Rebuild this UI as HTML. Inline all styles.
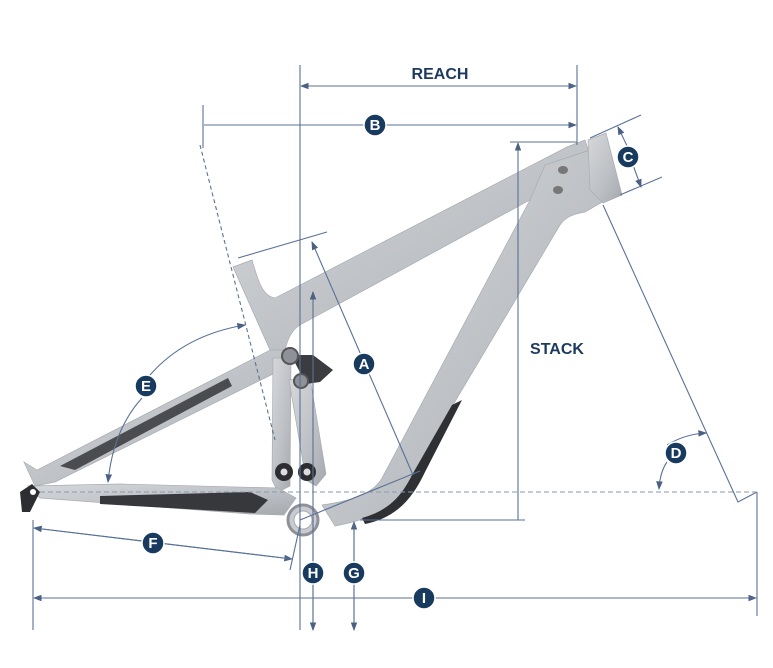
<!DOCTYPE html>
<html><head><meta charset="utf-8"><style>
html,body{margin:0;padding:0;background:#fff;}
svg{display:block;}
.d{stroke:#5a7196;stroke-width:1.1;fill:none;}
.t{font-family:"Liberation Sans",sans-serif;font-weight:bold;fill:#fff;font-size:15px;text-anchor:middle;}
</style></head><body>
<svg width="773" height="668" viewBox="0 0 773 668" xmlns="http://www.w3.org/2000/svg">
<defs>
<marker id="a" markerWidth="8" markerHeight="6" refX="7" refY="3" orient="auto"><path d="M0,0 L8,3 L0,6z" fill="#4a6184"/></marker>
<linearGradient id="g" x1="0" y1="0" x2="1" y2="1"><stop offset="0" stop-color="#d6d8db"/><stop offset="0.6" stop-color="#bcbfc3"/><stop offset="1" stop-color="#a5a9ae"/></linearGradient>
</defs>
<g fill="url(#g)" stroke="#a8acb1" stroke-width="0.7">
<path d="M24,462 L37,470 L280,345 L292,352 L290,368 L273,374 L55,482 L35,486 Z"/>
<path d="M273,358 L291,358 L290,486 L278,492 L272,480 Z"/>
<path d="M28,486 L120,484 L278,488 L296,498 L284,515 L250,514 L40,498 Z"/>
<path d="M289,380 L310,378 L326,474 L316,486 L306,480 Z"/>
<path d="M233,267 L252,260 C258,280 262,296 275,298 L567,147 L585,140 L598,180 L560,215 C545,215 535,205 530,200 L300,325 C292,330 288,338 285,350 L270,350 Z"/>
<path d="M530,200 L545,165 L590,150 L606,200 L585,212 C572,214 565,218 560,225 L450,410 L420,470 C405,500 380,518 335,526 L322,505 C360,500 375,490 382,478 Z"/>
<path d="M588,140 L606,133 L622,195 L603,203 L590,190 Z"/>
</g>
<path d="M100,496 L250,492 L268,500 L255,513 L100,504 Z" fill="#36383c"/>
<path d="M452,405 L462,400 L425,472 C412,500 395,518 365,524 L362,518 C390,510 402,495 412,475 Z" fill="#2e3034"/>
<path d="M60,466 L228,378 L232,386 L75,470 Z" fill="#4a4c50"/>
<path d="M291,355 L313,355 L333,370 L320,382 L306,384 Z" fill="#3a3c40"/>
<circle cx="290" cy="356" r="8" fill="#8e9298" stroke="#555" stroke-width="2"/>
<circle cx="301" cy="381" r="7" fill="#8e9298" stroke="#555" stroke-width="2"/>
<circle cx="284" cy="472" r="9" fill="#2c2e32"/><circle cx="284" cy="472" r="3.5" fill="#ddd"/>
<circle cx="307" cy="472" r="9" fill="#2c2e32"/><circle cx="307" cy="472" r="3.5" fill="#ddd"/>
<circle cx="303" cy="520" r="15" fill="#c8cbcf" stroke="#8e9298" stroke-width="3"/>
<circle cx="303" cy="520" r="9" fill="#fff" stroke="#aaa"/>
<path d="M20,492 L32,484 L40,492 L30,512 L22,512 Z" fill="#2c2e32"/>
<circle cx="33" cy="492" r="3" fill="#fff"/>
<ellipse cx="563" cy="170" rx="5" ry="4" fill="#777"/><ellipse cx="558" cy="190" rx="5" ry="4" fill="#777"/>
<g class="d">
<line x1="300" y1="65" x2="300" y2="630"/>
<line x1="577" y1="65" x2="577" y2="145"/>
<line x1="301" y1="86" x2="576" y2="86" marker-end="url(#a)"/>
<line x1="576" y1="86" x2="301" y2="86" marker-end="url(#a)"/>
<line x1="203" y1="105" x2="203" y2="148"/>
<line x1="204" y1="125" x2="576" y2="125" marker-end="url(#a)"/>
<line x1="510" y1="142" x2="577" y2="142"/>
<line x1="518" y1="520" x2="518" y2="143" marker-end="url(#a)"/>
<line x1="360" y1="520" x2="525" y2="520"/>
<line x1="590" y1="138" x2="641" y2="115"/>
<line x1="620" y1="195" x2="662" y2="177"/>
<line x1="629" y1="150" x2="618" y2="127" marker-end="url(#a)"/>
<line x1="633" y1="165" x2="641" y2="187" marker-end="url(#a)"/>
<path d="M603,205 L738,502 L757,492"/>
<line x1="757" y1="492" x2="757" y2="616"/>
<path d="M667,445 Q685,434 706,433" marker-end="url(#a)"/>
<path d="M667,462 Q660,472 659,489" marker-end="url(#a)"/>
<line x1="40" y1="492" x2="760" y2="492" stroke-dasharray="5,3" stroke="#8a9ab3"/>
<line x1="200" y1="145" x2="275" y2="440" stroke-dasharray="4,3"/>
<line x1="238" y1="258" x2="327" y2="232"/>
<line x1="413" y1="475" x2="312" y2="242" marker-end="url(#a)"/>
<line x1="313" y1="630" x2="313" y2="292" marker-end="url(#a)"/>
<line x1="313" y1="520" x2="313" y2="630" marker-end="url(#a)"/>
<line x1="354" y1="630" x2="354" y2="522" marker-end="url(#a)"/>
<line x1="354" y1="522" x2="354" y2="630" marker-end="url(#a)"/>
<line x1="300" y1="520" x2="420" y2="471"/>
<line x1="33" y1="520" x2="33" y2="630"/>
<line x1="34" y1="528" x2="292" y2="559" marker-end="url(#a)"/>
<line x1="292" y1="559" x2="34" y2="528" marker-end="url(#a)"/>
<line x1="300" y1="525" x2="290" y2="570"/>
<line x1="34" y1="598" x2="756" y2="598" marker-end="url(#a)"/>
<line x1="756" y1="598" x2="34" y2="598" marker-end="url(#a)"/>
<path d="M150,375 Q185,335 245,325" marker-end="url(#a)"/>
<path d="M142,398 Q113,430 108,482" marker-end="url(#a)"/>
</g>
<text x="440" y="79" font-family="Liberation Sans,sans-serif" font-weight="bold" font-size="16" fill="#1d3a5e" text-anchor="middle">REACH</text>
<text x="557" y="354" font-family="Liberation Sans,sans-serif" font-weight="bold" font-size="16" fill="#1d3a5e" text-anchor="middle">STACK</text>
<g fill="#173a5e" stroke="#fff" stroke-width="1.5">
<circle cx="375" cy="125" r="11"/><circle cx="628" cy="157" r="11"/><circle cx="364" cy="364" r="11"/>
<circle cx="676" cy="453" r="11"/><circle cx="146" cy="386" r="11"/><circle cx="153" cy="543" r="11"/>
<circle cx="313" cy="573" r="11"/><circle cx="354" cy="573" r="11"/><circle cx="424" cy="598" r="11"/>
</g>
<g class="t">
<text x="375" y="130">B</text><text x="628" y="162">C</text><text x="364" y="369">A</text>
<text x="676" y="458">D</text><text x="146" y="391">E</text><text x="153" y="548">F</text>
<text x="313" y="578">H</text><text x="354" y="578">G</text><text x="424" y="603">I</text>
</g>
</svg>
</body></html>
